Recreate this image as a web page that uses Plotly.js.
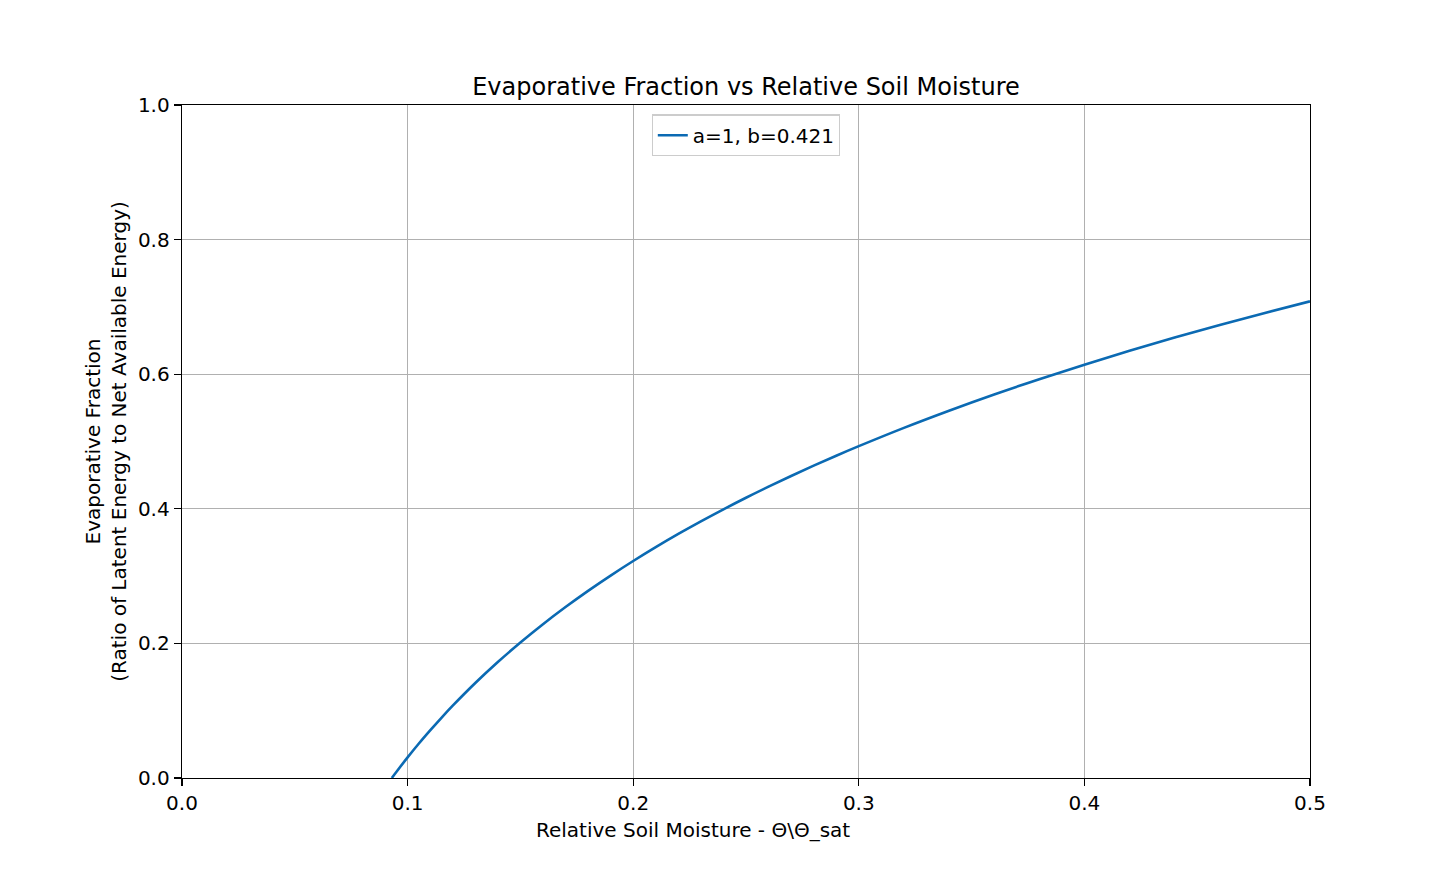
<!DOCTYPE html>
<html>
<head>
<meta charset="utf-8">
<script src="https://cdn.plot.ly/plotly-3.0.1.min.js"></script>
<style>html,body{margin:0;padding:0;background:#fff;}#chart{width:1456px;height:874px;}</style>
</head>
<body>
<div id="chart"></div>
<script>
// Relative soil moisture (x) and evaporative fraction (y)
const soilMoisture = [0.093, 0.095, 0.10, 0.105, 0.11, 0.115, 0.12, 0.13, 0.14, 0.15, 0.16, 0.17, 0.18, 0.19, 0.20,
  0.21, 0.22, 0.23, 0.24, 0.25, 0.26, 0.27, 0.28, 0.29, 0.30, 0.32, 0.34, 0.36, 0.38, 0.40, 0.42, 0.44, 0.46, 0.48, 0.50];
const evapFraction = [0.0, 0.0090, 0.0306, 0.0512, 0.0707, 0.0895, 0.1074, 0.1411, 0.1723, 0.2013, 0.2285, 0.2540, 0.2781, 0.3008, 0.3224,
  0.3430, 0.3626, 0.3813, 0.3992, 0.4164, 0.4329, 0.4488, 0.4641, 0.4789, 0.4931, 0.5203, 0.5458, 0.5699, 0.5926, 0.6142, 0.6348, 0.6544, 0.6731, 0.6910, 0.7082];
const seriesName = "a=1, b=0.421";
const xTicks = [0, 0.1, 0.2, 0.3, 0.4, 0.5];
const xTickLabels = ["0.0", "0.1", "0.2", "0.3", "0.4", "0.5"];
const yTicks = [0, 0.2, 0.4, 0.6, 0.8, 1.0];
const yTickLabels = ["0.0", "0.2", "0.4", "0.6", "0.8", "1.0"];
const xTitle = "Relative Soil Moisture - Θ\\Θ_sat";

const font = "DejaVu Sans, sans-serif";
const trace = {
  x: soilMoisture, y: evapFraction, type: "scatter", mode: "lines", name: seriesName,
  line: {color: "#0b6ab3", width: 2.6, shape: "spline", smoothing: 1, simplify: false},
  showlegend: true
};
const axisCommon = {
  showline: true, mirror: true, linecolor: "#000", linewidth: 1.3,
  ticks: "outside", ticklen: 7, tickwidth: 1.3, tickcolor: "#000",
  showgrid: true, gridcolor: "#b0b0b0", gridwidth: 1.1, zeroline: false,
  tickfont: {family: font, size: 20, color: "#000"}
};
const layout = {
  width: 1456, height: 874,
  margin: {l: 182, r: 146, t: 105, b: 96},
  paper_bgcolor: "#fff", plot_bgcolor: "#fff",
  font: {family: font, color: "#000"},
  title: {text: "Evaporative Fraction vs Relative Soil Moisture", font: {family: font, size: 24, color: "#000"},
    x: 0.5, xref: "paper", xanchor: "center", y: 1, yref: "paper", yanchor: "bottom", pad: {b: 10}},
  xaxis: Object.assign({}, axisCommon, {
    range: [0, 0.5], tickvals: xTicks, ticktext: xTickLabels
  }),
  yaxis: Object.assign({}, axisCommon, {
    range: [0, 1], tickvals: yTicks, ticktext: yTickLabels,
    title: {text: "Evaporative Fraction<br>(Ratio of Latent Energy to Net Available Energy)", font: {family: font, size: 20, color: "#000"}, standoff: 6}
  }),
  annotations: [{
    text: xTitle, xref: "paper", yref: "paper", x: 0.453, y: 0, xanchor: "center", yanchor: "top",
    yshift: -38, showarrow: false, font: {family: font, size: 20, color: "#000"}
  }],
  legend: {x: 0.5, xanchor: "center", y: 0.986, yanchor: "top", bgcolor: "rgba(255,255,255,0.8)",
    bordercolor: "#cccccc", borderwidth: 1.3, font: {family: font, size: 20, color: "#000"}},
  showlegend: true
};
Plotly.newPlot("chart", [trace], layout, {displayModeBar: false, staticPlot: true});
</script>
</body>
</html>
